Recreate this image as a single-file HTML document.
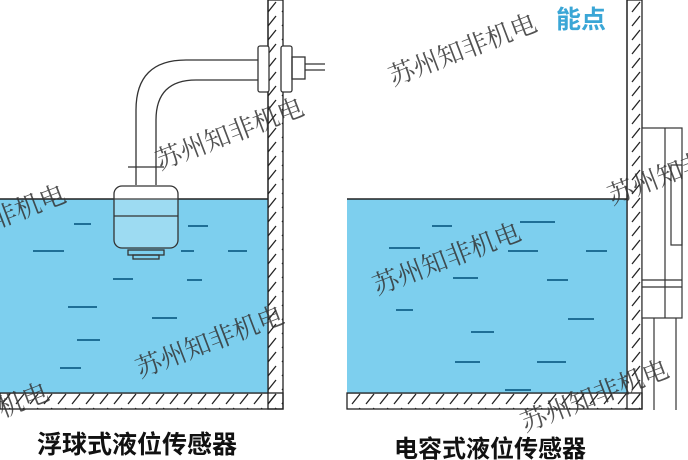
<!DOCTYPE html>
<html><head><meta charset="utf-8"><style>body{margin:0;background:#fff}svg{display:block}</style></head><body>
<svg width="688" height="460" viewBox="0 0 688 460" xmlns="http://www.w3.org/2000/svg">
<defs>
<pattern id="h" patternUnits="userSpaceOnUse" width="14" height="14"><line x1="2" y1="12" x2="10" y2="2" stroke="#222" stroke-width="1.3"/></pattern>
</defs>
<rect width="688" height="460" fill="#fff"/>
<rect x="268" y="0" width="15" height="409" fill="url(#h)" stroke="#222" stroke-width="1.3"/>
<rect x="0" y="393" width="283" height="16" fill="url(#h)" stroke="#222" stroke-width="1.3"/>
<rect x="0" y="199" width="268" height="194" fill="#7dcfee"/>
<line x1="0" y1="199" x2="268" y2="199" stroke="#222" stroke-width="1.5"/>
<line x1="268" y1="0" x2="268" y2="393" stroke="#222" stroke-width="1.3"/>
<line x1="0" y1="393" x2="268" y2="393" stroke="#222" stroke-width="1.3"/>
<rect x="627" y="0" width="15" height="409" fill="url(#h)" stroke="#222" stroke-width="1.3"/>
<rect x="347" y="393" width="295" height="16" fill="url(#h)" stroke="#222" stroke-width="1.3"/>
<rect x="347" y="199" width="280" height="194" fill="#7dcfee"/>
<line x1="347" y1="199" x2="627" y2="199" stroke="#222" stroke-width="1.5"/>
<line x1="627" y1="0" x2="627" y2="393" stroke="#222" stroke-width="1.3"/>
<line x1="347" y1="393" x2="627" y2="393" stroke="#222" stroke-width="1.3"/>
<g stroke="#1f6f96" stroke-width="2">
<line x1="74" y1="224" x2="91" y2="224"/><line x1="33" y1="251" x2="64" y2="251"/><line x1="113" y1="279" x2="133" y2="279"/><line x1="68" y1="307" x2="97" y2="307"/><line x1="77" y1="340" x2="100" y2="340"/><line x1="60" y1="368" x2="81" y2="368"/><line x1="152" y1="318" x2="177" y2="318"/><line x1="181" y1="251" x2="194" y2="251"/><line x1="228" y1="251" x2="247" y2="251"/><line x1="187" y1="280" x2="202" y2="280"/><line x1="188" y1="226" x2="208" y2="226"/>
<line x1="432" y1="226" x2="452" y2="226"/><line x1="389" y1="248" x2="420" y2="248"/><line x1="453" y1="278" x2="478" y2="278"/><line x1="396" y1="310" x2="413" y2="310"/><line x1="471" y1="332" x2="494" y2="332"/><line x1="455" y1="362" x2="480" y2="362"/><line x1="520" y1="222" x2="555" y2="222"/><line x1="508" y1="251" x2="538" y2="251"/><line x1="586" y1="251" x2="607" y2="251"/><line x1="547" y1="280" x2="568" y2="280"/><line x1="568" y1="319" x2="594" y2="319"/><line x1="537" y1="362" x2="566" y2="362"/><line x1="505" y1="390" x2="531" y2="390"/>
</g>
<g fill="none" stroke="#333" stroke-width="1.3">
<path d="M136 185 V110 Q136 60 186 60 H258"/>
<path d="M156 185 V120 Q156 80 196 80 H258"/>
<line x1="128" y1="167" x2="164" y2="167"/>
<rect x="114" y="186" width="64" height="62" rx="8" fill="rgba(255,255,255,0.25)"/>
<line x1="114" y1="216" x2="178" y2="216"/>
<rect x="128" y="250" width="36" height="5"/><rect x="133" y="255" width="26" height="4"/>
<rect x="258" y="46" width="11" height="46" rx="2" fill="#fff"/>
<rect x="281" y="46" width="11" height="46" rx="2" fill="#fff"/>
<rect x="292" y="57" width="13" height="22"/>
<line x1="305" y1="64" x2="325" y2="64"/><line x1="305" y1="70" x2="325" y2="70"/>
</g>
<g fill="none" stroke="#333" stroke-width="1.2">
<rect x="642" y="128" width="40" height="190" fill="#fff"/>
<line x1="665" y1="128" x2="665" y2="318"/>
<rect x="671" y="165" width="11" height="80"/>
<line x1="642" y1="280" x2="682" y2="280"/><line x1="642" y1="287" x2="682" y2="287"/>
<line x1="654" y1="318" x2="654" y2="410"/><line x1="676" y1="318" x2="676" y2="410"/>
</g>
<g font-family="'Liberation Serif','Noto Serif CJK SC',serif" font-size="26" fill="#333" opacity="0.85">
<text transform="translate(393,86) rotate(-21)">苏州知非机电</text>
<text transform="translate(160,170) rotate(-21)">苏州知非机电</text>
<text transform="translate(-78,257) rotate(-21)">苏州知非机电</text>
<text transform="translate(377,295) rotate(-21)">苏州知非机电</text>
<text transform="translate(140,378) rotate(-21)">苏州知非机电</text>
<text transform="translate(-95,455) rotate(-21)">苏州知非机电</text>
<text transform="translate(525,432) rotate(-21)">苏州知非机电</text>
<text transform="translate(612,205) rotate(-21)">苏州知非机电</text>
</g>
<text x="556" y="28" font-family="'Liberation Sans','Noto Sans CJK SC',sans-serif" font-size="25" font-weight="bold" fill="#3aa6d6">能点</text>
<g font-family="'Liberation Sans','Noto Sans CJK SC',sans-serif" font-weight="bold" fill="#111">
<text x="37" y="453" font-size="25">浮球式液位传感器</text>
<text x="394" y="457" font-size="24">电容式液位传感器</text>
</g>
</svg>
</body></html>
